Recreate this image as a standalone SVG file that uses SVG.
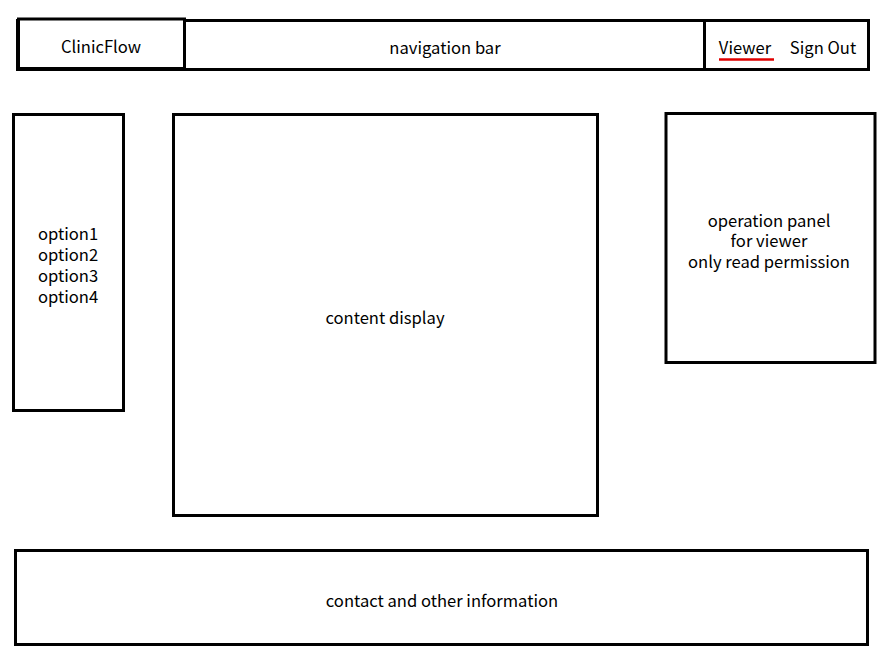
<svg xmlns="http://www.w3.org/2000/svg" width="885" height="660" viewBox="0 0 885 660">
<style>
.box{fill:#fff;stroke:#000;stroke-width:3}
.t{font-family:"Noto Sans CJK JP","Noto Sans",sans-serif;font-size:16.6px;fill:#000;text-anchor:middle}
</style>
<rect width="885" height="660" fill="#fff"/>
<g id="navbar">
<rect class="box" x="17.5" y="20.5" width="851" height="49"/>
<text class="t" x="445" y="54">navigation bar</text>
</g>
<g id="logo">
<rect class="box" x="18.5" y="19" width="166" height="49.5"/>
<text class="t" x="101" y="53">ClinicFlow</text>
</g>
<g id="user">
<rect class="box" x="704.5" y="20.5" width="164" height="49"/>
<text class="t" x="745" y="54">Viewer</text>
<line x1="719" y1="59.5" x2="774" y2="59.5" stroke="#e00000" stroke-width="2.5"/>
<text class="t" x="823" y="54">Sign Out</text>
</g>
<g id="sidebar">
<rect class="box" x="13.5" y="114.5" width="110" height="296"/>
<text class="t" x="68" y="240">option1</text>
<text class="t" x="68" y="261">option2</text>
<text class="t" x="68" y="282">option3</text>
<text class="t" x="68" y="303">option4</text>
</g>
<g id="content">
<rect class="box" x="173.5" y="114.5" width="424" height="401"/>
<text class="t" x="385" y="324">content display</text>
</g>
<g id="panel">
<rect class="box" x="666" y="113.5" width="209" height="249"/>
<text class="t" x="769" y="227">operation panel</text>
<text class="t" x="769" y="247">for viewer</text>
<text class="t" x="769" y="268">only read permission</text>
</g>
<g id="footer">
<rect class="box" x="15.5" y="550.5" width="852" height="94"/>
<text class="t" x="442" y="607">contact and other information</text>
</g>
<g id="connectors"></g>
</svg>
